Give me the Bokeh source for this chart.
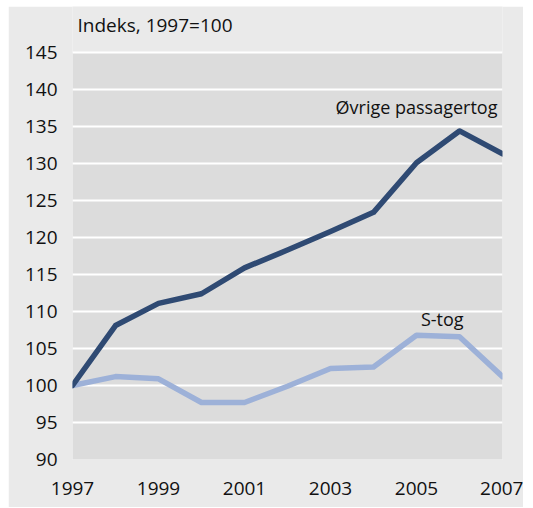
from bokeh.plotting import figure
from bokeh.models import Label, Range1d, FixedTicker, BoxAnnotation
from bokeh.embed import file_html
from bokeh.resources import INLINE

years = [1997, 1998, 1999, 2000, 2001, 2002, 2003, 2004, 2005, 2006, 2007]
ovrige = [100, 108.1, 111.1, 112.4, 115.9, 118.3, 120.8, 123.4, 130.1, 134.4, 131.3]
stog = [100, 101.2, 100.9, 97.7, 97.7, 99.9, 102.3, 102.5, 106.8, 106.6, 101.2]
y_ticks = [90, 95, 100, 105, 110, 115, 120, 125, 130, 135, 140, 145]
x_ticks = [1997, 1999, 2001, 2003, 2005, 2007]
y_min, y_max = 90, 145

FONT = "Open Sans"
W, H = 515, 501
BOTTOM = 48
PLOT_PX = 407          # pixel height of the 90..145 band
TOP_PAD = H - BOTTOM - PLOT_PX   # space above 145 inside the frame (for the title)
y_top = y_max + TOP_PAD * (y_max - y_min) / PLOT_PX

p = figure(width=W, height=H, output_backend="svg", toolbar_location=None,
           x_range=Range1d(1997, 2007), y_range=Range1d(y_min, y_top),
           min_border_left=64, min_border_right=21, min_border_top=0, min_border_bottom=BOTTOM)
p.styles = {"margin-left": "8px", "margin-top": "6px"}
p.background_fill_color = "#eaeaea"
p.border_fill_color = "#eaeaea"
p.outline_line_color = None

p.add_layout(BoxAnnotation(bottom=y_min, top=y_max, fill_color="#dcdcdc", fill_alpha=1,
                           line_color=None, level="image"))

p.xgrid.grid_line_color = None
p.ygrid.grid_line_color = "white"
p.ygrid.grid_line_width = 2
p.ygrid.ticker = FixedTicker(ticks=y_ticks)

for ax in (p.xaxis[0], p.yaxis[0]):
    ax.axis_line_color = None
    ax.major_tick_line_color = None
    ax.minor_tick_line_color = None
    ax.major_tick_out = 0
    ax.major_tick_in = 0
    ax.minor_tick_out = 0
    ax.minor_tick_in = 0
    ax.major_label_text_font = FONT
    ax.major_label_text_font_size = "19px"
    ax.major_label_text_color = "#111111"
p.yaxis.ticker = FixedTicker(ticks=y_ticks)
p.xaxis.ticker = FixedTicker(ticks=x_ticks)
p.yaxis.major_label_standoff = 15
p.xaxis.major_label_standoff = 22

p.line(years, stog, line_color="#9db1d8", line_width=5.5, line_join="round", line_cap="round")
p.line(years, ovrige, line_color="#2f4a73", line_width=5.5, line_join="round", line_cap="round")

p.add_layout(Label(x=2005.0, y=137.6, text="Øvrige passagertog", text_align="center",
                   text_baseline="middle", text_font=FONT, text_font_size="18px",
                   text_color="#111111"))
p.add_layout(Label(x=2005.6, y=109.0, text="S-tog", text_align="center",
                   text_baseline="middle", text_font=FONT, text_font_size="18px",
                   text_color="#111111"))
p.add_layout(Label(x=1997, y=148.65, x_offset=5, text="Indeks, 1997=100",
                   text_align="left", text_baseline="middle", text_font=FONT,
                   text_font_size="19px", text_color="#111111"))

open("out.html", "w").write(file_html(p, INLINE))
